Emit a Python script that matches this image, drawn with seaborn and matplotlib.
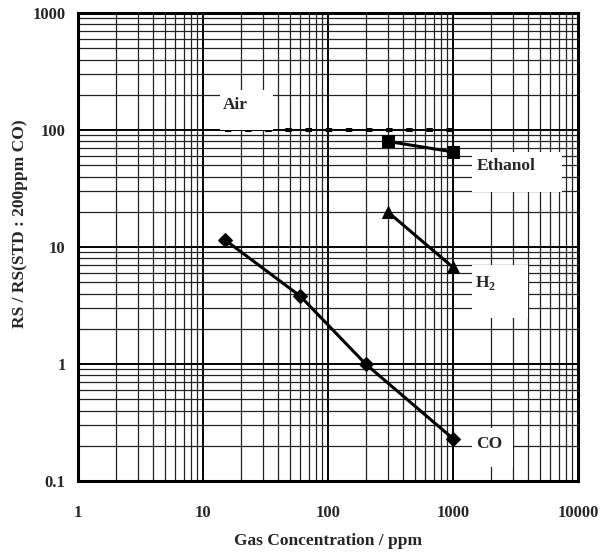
import numpy as np
import seaborn as sns
import matplotlib
matplotlib.use('Agg')
import matplotlib.pyplot as plt
from matplotlib.ticker import LogLocator, NullFormatter, FixedLocator, FixedFormatter
from matplotlib.patches import Rectangle

# Données
co_ppm = [15, 60, 200, 1000]
co_ratio = [11.5, 3.8, 1.0, 0.23]

ethanol_ppm = [300, 1000]
ethanol_ratio = [80, 65]

h2_ppm = [300, 1000]
h2_ratio = [20, 6.7]

air_ppm = [15, 1000]
air_ratio = [100, 100]

x_ticks = [1, 10, 100, 1000, 10000]
x_ticklabels = ['1', '10', '100', '1000', '10000']
y_ticks = [0.1, 1, 10, 100, 1000]
y_ticklabels = ['0.1', '1', '10', '100', '1000']

sns.set_style('white')
plt.rcParams['font.family'] = ['Liberation Serif', 'DejaVu Serif']
plt.rcParams['font.weight'] = 'bold'
plt.rcParams['mathtext.fontset'] = 'custom'
plt.rcParams['mathtext.rm'] = 'Liberation Serif:bold'
plt.rcParams['mathtext.bf'] = 'Liberation Serif:bold'

fig = plt.figure(figsize=(6.12, 5.52), dpi=100)
ax = fig.add_axes([0.1275, 0.1286, 0.817, 0.8478])

ax.set_xscale('log')
ax.set_yscale('log')
ax.set_xlim(1, 10000)
ax.set_ylim(0.1, 1000)

# Grille log
ax.xaxis.set_major_locator(FixedLocator(x_ticks))
ax.xaxis.set_major_formatter(FixedFormatter(x_ticklabels))
ax.yaxis.set_major_locator(FixedLocator(y_ticks))
ax.yaxis.set_major_formatter(FixedFormatter(y_ticklabels))
ax.xaxis.set_minor_locator(LogLocator(base=10, subs=np.arange(2, 10)))
ax.yaxis.set_minor_locator(LogLocator(base=10, subs=np.arange(2, 10)))
ax.xaxis.set_minor_formatter(NullFormatter())
ax.yaxis.set_minor_formatter(NullFormatter())
ax.grid(which='major', color='black', linewidth=1.4, zorder=0)
ax.grid(which='minor', color='#222222', linewidth=0.9, zorder=0)
ax.set_axisbelow(True)
ax.tick_params(which='both', length=0)
ax.tick_params(axis='x', pad=17, labelsize=12)
ax.tick_params(axis='y', pad=9, labelsize=12)

for s in ax.spines.values():
    s.set_color('black')
    s.set_linewidth(2.2)

# Cadres blancs des étiquettes (celui de Air recouvre un peu les tirets)
boxes = [(0.284, 0.749, 0.106, 0.086, 2.5),
         (0.788, 0.6175, 0.18, 0.0855, 1.5),
         (0.788, 0.348, 0.112, 0.1135, 1.5),
         (0.788, 0.03, 0.082, 0.083, 1.5)]
for bx, by, bw, bh, z in boxes:
    ax.add_patch(Rectangle((bx, by), bw, bh, transform=ax.transAxes,
                           facecolor='white', edgecolor='none', zorder=z))

# Courbes
sns.lineplot(x=air_ppm, y=air_ratio, ax=ax, color='black', linewidth=2.9,
             linestyle=(0, (1.6, 3.4)), dash_capstyle='butt', zorder=2)
sns.lineplot(x=co_ppm, y=co_ratio, ax=ax, color='black', linewidth=2.2,
             marker='D', markersize=7, markeredgecolor='black', zorder=3)
sns.lineplot(x=ethanol_ppm, y=ethanol_ratio, ax=ax, color='black', linewidth=2.2,
             marker='s', markersize=9, markeredgecolor='black', zorder=3)
sns.lineplot(x=h2_ppm, y=h2_ratio, ax=ax, color='black', linewidth=2.2,
             marker='^', markersize=9, markeredgecolor='black', zorder=3)

lab = dict(transform=ax.transAxes, fontsize=12.5, fontweight='bold', va='center',
           ha='left', zorder=4)
ax.text(0.29, 0.803, 'Air', **lab)
ax.text(0.798, 0.673, 'Ethanol', **lab)
ax.text(0.794, 0.423, r'H$_2$', **lab)
ax.text(0.796, 0.079, 'CO', **lab)

ax.set_xlabel('Gas Concentration / ppm', fontsize=12.5, fontweight='bold')
ax.set_ylabel('RS / RS(STD : 200ppm CO)', fontsize=12.5, fontweight='bold')
ax.xaxis.set_label_coords(0.5, -0.112)
ax.yaxis.set_label_coords(-0.1, 0.549)

fig.savefig('out.png', dpi=100)
